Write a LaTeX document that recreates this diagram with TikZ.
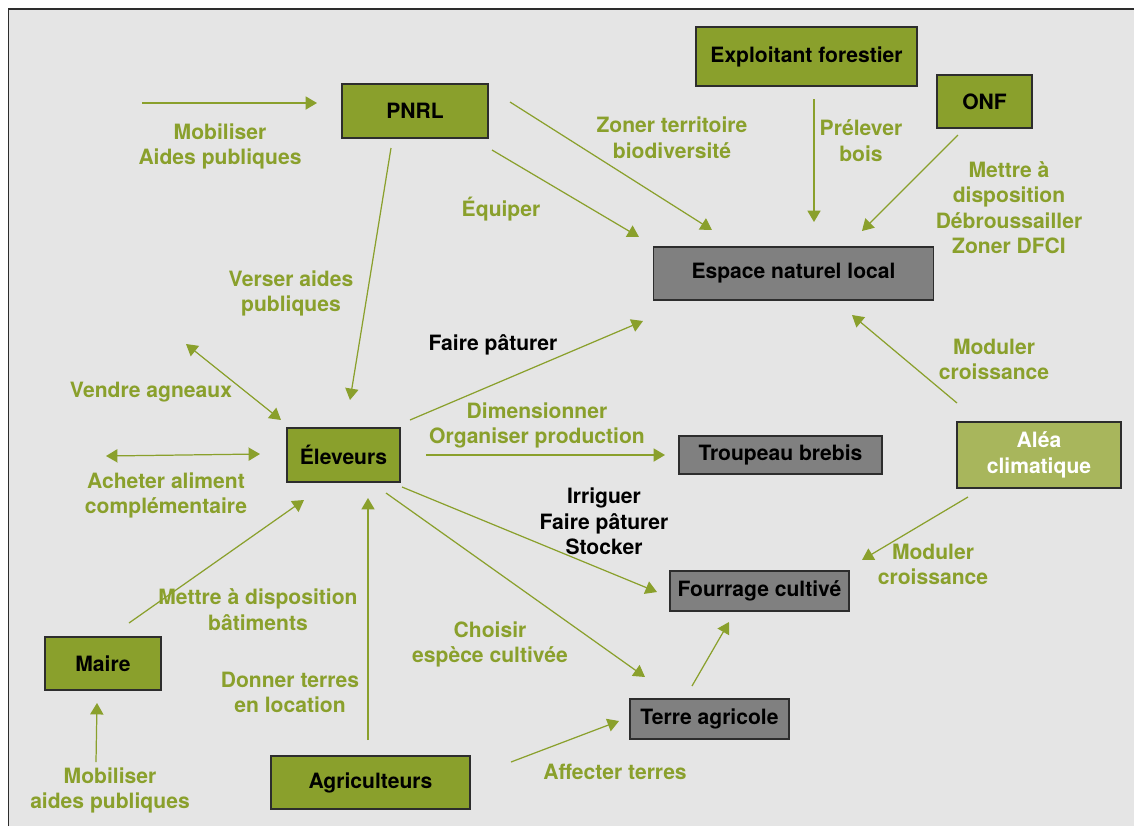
\documentclass[tikz,border=0pt]{standalone}
\usepackage{fontspec}
\setmainfont{TeX Gyre Heros}
\usetikzlibrary{arrows.meta}
\definecolor{vert}{RGB}{138,160,44}
\definecolor{vertclair}{RGB}{168,182,92}
\definecolor{gris}{RGB}{128,128,128}
\definecolor{fond}{RGB}{229,229,229}
\definecolor{cadre}{RGB}{45,45,45}
\begin{document}
\begin{tikzpicture}[x=0.02cm,y=-0.02cm,
    acteur/.style={draw=cadre,line width=0.9pt,fill=vert,inner sep=0pt,
      font=\fontsize{12}{14.5}\selectfont\bfseries},
    objet/.style={acteur,fill=gris},
    action/.style={text=vert,align=center,yshift=-0.05cm,font=\fontsize{12}{14.5}\selectfont\bfseries},
    fleche/.style={draw=vert,line width=0.7pt,-{Triangle[length=6.5pt,width=7.5pt]}},
    double/.style={fleche,{Triangle[length=6.5pt,width=7.5pt]}-{Triangle[length=6.5pt,width=7.5pt]}}]
    \useasboundingbox (0,0) rectangle (1134,826);
    \fill[fond] (8.5,9) rectangle (1134,826);
    \draw[cadre,line width=0.6pt] (8.5,826) -- (8.5,9) -- (1134,9);

    \node[acteur,minimum width=2.92cm,minimum height=1.08cm] (pnrl) at (415,111) {PNRL};
    \node[acteur,minimum width=4.42cm,minimum height=1.18cm] (exploitant) at (806.5,56.5) {Exploitant forestier};
    \node[acteur,minimum width=1.9cm,minimum height=1.06cm] (onf) at (984.5,101.5) {ONF};
    \node[objet,minimum width=5.6cm,minimum height=1.06cm] (espace) at (793.5,273.5) {Espace naturel local};
    \node[acteur,minimum width=2.26cm,minimum height=1.08cm] (eleveurs) at (343.5,455) {Éleveurs};
    \node[objet,minimum width=4.06cm,minimum height=0.76cm] (troupeau) at (780.5,455) {Troupeau brebis};
    \node[objet,minimum width=3.58cm,minimum height=0.8cm] (fourrage) at (759.5,591) {Fourrage cultivé};
    \node[objet,minimum width=3.18cm,minimum height=0.8cm] (terre) at (709.5,719) {Terre agricole};
    \node[acteur,minimum width=2.32cm,minimum height=1.06cm] (maire) at (103,663.5) {Maire};
    \node[acteur,minimum width=3.98cm,minimum height=1.06cm] (agriculteurs) at (370.5,782.5) {Agriculteurs};
    \node[acteur,fill=vertclair,text=white,align=center,minimum width=3.28cm,minimum height=1.32cm] (alea) at (1039,455) {Aléa\\climatique};

    \coordinate (mobA) at (142,103);   \coordinate (mobB) at (317,103);
    \coordinate (verA) at (391,148);   \coordinate (verB) at (350,400);
    \coordinate (equA) at (492,150);   \coordinate (equB) at (639,237);
    \coordinate (zonA) at (510,102);   \coordinate (zonB) at (712,230);
    \coordinate (preA) at (814,99);    \coordinate (preB) at (814,222);
    \coordinate (onfA) at (958,135);   \coordinate (onfB) at (862,231);
    \coordinate (modA) at (957,403);   \coordinate (modB) at (852,315);
    \coordinate (modC) at (968,497);   \coordinate (modD) at (862,560);
    \coordinate (patA) at (410,420);   \coordinate (patB) at (643,321);
    \coordinate (dimA) at (426,455);   \coordinate (dimB) at (665,455);
    \coordinate (irrA) at (402,487);   \coordinate (irrB) at (657,592);
    \coordinate (choA) at (386,493);   \coordinate (choB) at (645,677);
    \coordinate (terA) at (692,686);   \coordinate (terB) at (729,622);
    \coordinate (affA) at (511,762);   \coordinate (affB) at (619,721);
    \coordinate (donA) at (368,740);   \coordinate (donB) at (368,498);
    \coordinate (batA) at (129,623);   \coordinate (batB) at (304,500);
    \coordinate (maiA) at (96,762);    \coordinate (maiB) at (97,703);
    \coordinate (venA) at (186,344);   \coordinate (venB) at (281,420);
    \coordinate (achA) at (106,456);   \coordinate (achB) at (260,454);

    \draw[fleche] (mobA) -- (mobB);
    \draw[fleche] (verA) -- (verB);
    \draw[fleche] (equA) -- (equB);
    \draw[fleche] (zonA) -- (zonB);
    \draw[fleche] (preA) -- (preB);
    \draw[fleche] (onfA) -- (onfB);
    \draw[fleche] (modA) -- (modB);
    \draw[fleche] (modC) -- (modD);
    \draw[fleche] (patA) -- (patB);
    \draw[fleche] (dimA) -- (dimB);
    \draw[fleche] (irrA) -- (irrB);
    \draw[fleche] (choA) -- (choB);
    \draw[fleche] (terA) -- (terB);
    \draw[fleche] (affA) -- (affB);
    \draw[fleche] (donA) -- (donB);
    \draw[fleche] (batA) -- (batB);
    \draw[fleche] (maiA) -- (maiB);
    \draw[double] (venA) -- (venB);
    \draw[double] (achA) -- (achB);

    \node[action] (lmob) at (220,144) {Mobiliser\\Aides publiques};
    \node[action] (lzon) at (672,135) {Zoner territoire\\biodiversité};
    \node[action] (lpre) at (861,138) {Prélever\\bois};
    \node[action] (lonf) at (1009,205) {Mettre à\\disposition\\Débroussailler\\Zoner DFCI};
    \node[action] (lequ) at (501,207) {Équiper};
    \node[action] (lver) at (291,291) {Verser aides\\publiques};
    \node[action,text=black] (lpat) at (493,342) {Faire pâturer};
    \node[action] (lmod) at (994,357) {Moduler\\croissance};
    \node[action] (lven) at (151,390) {Vendre agneaux};
    \node[action] (ldim) at (537,423) {Dimensionner\\Organiser production};
    \node[action] (lach) at (166,493) {Acheter aliment\\complémentaire};
    \node[action,text=black] (lirr) at (604,519) {Irriguer\\Faire pâturer\\Stocker};
    \node[action] (lmod2) at (933,562) {Moduler\\croissance};
    \node[action] (lbat) at (258,607) {Mettre à disposition\\bâtiments};
    \node[action] (lcho) at (490,642) {Choisir\\espèce cultivée};
    \node[action] (ldon) at (290,690) {Donner terres\\en location};
    \node[action] (laff) at (615,769) {Affecter terres};
    \node[action] (lmai) at (110,788) {Mobiliser\\aides publiques};
  \end{tikzpicture}
\end{document}
